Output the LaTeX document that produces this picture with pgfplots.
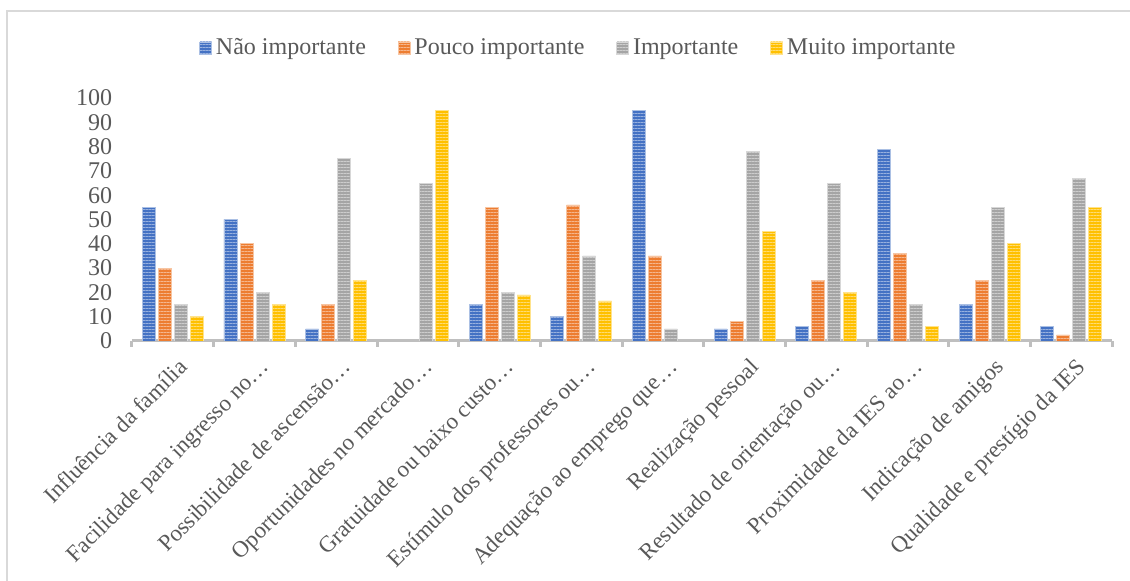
\documentclass[border=0pt]{standalone}
\usepackage{pgfplots}
\pgfplotsset{compat=1.18}
\usepackage{fontspec}
\setmainfont{Liberation Serif}
\usetikzlibrary{patterns.meta}
\definecolor{cblue}{HTML}{4472C4}
\definecolor{corange}{HTML}{ED7D31}
\definecolor{cgray}{HTML}{A5A5A5}
\definecolor{cyellow}{HTML}{FFC000}
\definecolor{txt}{HTML}{595959}
\definecolor{axgray}{HTML}{BFBFBF}
\definecolor{frame}{HTML}{D9D9D9}
\tikzset{
  barsty/.style={fill=#1, draw=#1!45!white, line width=0.3pt,
    postaction={pattern={Lines[angle=0,distance=1.5pt,line width=0.45pt]}, pattern color=#1!55!white}}
}
\begin{document}
\begin{tikzpicture}
\path[use as bounding box] (0,0) rectangle (565pt,290.5pt);
\draw[frame, line width=1pt] (3.5pt,-2pt) -- (3.5pt,285pt) -- (567pt,285pt);
\begin{axis}[
  at={(66pt,120pt)}, anchor=south west,
  scale only axis, width=490pt, height=121.5pt,
  ybar=1.5pt, bar width=6.5pt,
  xmin=-0.5, xmax=11.5, ymin=0, ymax=100,
  axis x line*=bottom, axis y line*=left,
  x axis line style={axgray, line width=1.5pt, -},
  y axis line style={draw=none},
  xtick={0,...,11},
  major x tick style={draw=none},
  minor xtick={-0.5,0.5,...,11.5},
  minor x tick style={axgray, line width=1.5pt},
  minor tick length=3pt,
  tick align=outside,
  ytick={0,10,...,100},
  major y tick style={draw=none},
  xticklabels={Influência da família, Facilidade para ingresso no…, Possibilidade de ascensão…, Oportunidades no mercado…, Gratuidade ou baixo custo…, Estímulo dos professores ou…, Adequação ao emprego que…, Realização pessoal, Resultado de orientação ou…, Proximidade da IES ao…, Indicação de amigos, Qualidade e prestígio da IES},
  xticklabel style={rotate=45, anchor=north east, inner sep=1pt, font=\fontsize{11.5}{13}\selectfont, text=txt, yshift=-3pt},
  yticklabel style={anchor=east, inner sep=0pt, xshift=-5.5pt, font=\fontsize{12}{14}\selectfont, text=txt},
  /pgf/number format/assume math mode=true,
  legend style={at={(axis description cs:0.4566,1.206)}, anchor=center, draw=none, fill=none,
    font=\fontsize{12}{14}\selectfont, text=txt, legend columns=4,
    /tikz/every even column/.append style={column sep=14pt}},
  legend image code/.code={\path[#1] (0pt,-3pt) rectangle (6pt,3pt);},
]
\addplot[barsty=cblue] coordinates {(0,55) (1,50) (2,5) (4,15) (5,10) (6,95) (7,5) (8,6) (9,79) (10,15) (11,6)};
\addplot[barsty=corange] coordinates {(0,30) (1,40) (2,15) (4,55) (5,56) (6,35) (7,8) (8,25) (9,36) (10,25) (11,2.5)};
\addplot[barsty=cgray] coordinates {(0,15) (1,20) (2,75) (3,65) (4,20) (5,35) (6,5) (7,78) (8,65) (9,15) (10,55) (11,67)};
\addplot[barsty=cyellow] coordinates {(0,10) (1,15) (2,25) (3,95) (4,19) (5,16.5) (7,45) (8,20) (9,6) (10,40) (11,55)};
\legend{Não importante, Pouco importante, Importante, Muito importante}
\end{axis}
\end{tikzpicture}
\end{document}
